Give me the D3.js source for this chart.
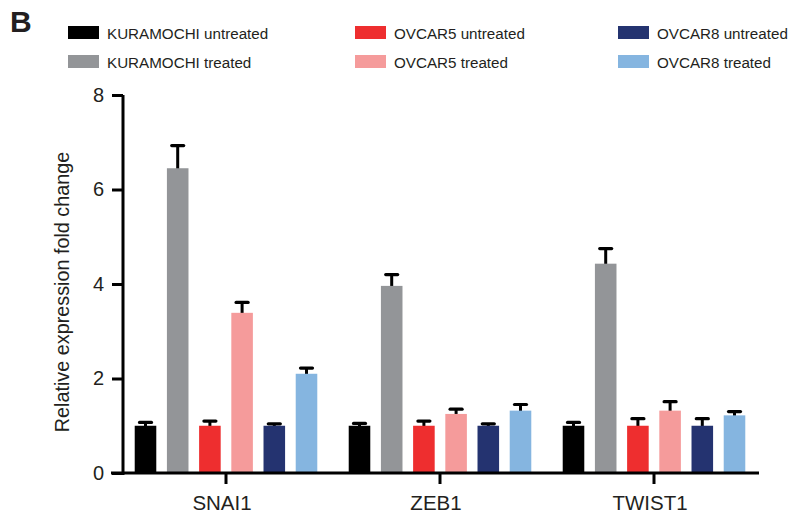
<!DOCTYPE html>
<html>
<head>
<meta charset="utf-8">
<script src="https://cdn.jsdelivr.net/npm/d3@7"></script>
<style>
  body { margin: 0; background: #fff; }
  text { font-family: "Liberation Sans", Arial, sans-serif; fill: #231f20; }
</style>
</head>
<body>
<svg id="chart"></svg>
<script>
const genes = ["SNAI1", "ZEB1", "TWIST1"]
const series = ["KURAMOCHI untreated", "KURAMOCHI treated", "OVCAR5 untreated", "OVCAR5 treated", "OVCAR8 untreated", "OVCAR8 treated"]
const colors = ["#000000", "#939598", "#ee2e2f", "#f59b9b", "#243370", "#85b5e0"]

// mean values, one row per gene, in series order
const means = [
  [1.0, 6.45, 1.0, 3.39, 1.0, 2.10],
  [1.0, 3.96, 1.0, 1.25, 1.0, 1.32],
  [1.0, 4.43, 1.0, 1.32, 1.0, 1.22]
]
// top of error bar
const errTops = [
  [1.07, 6.93, 1.10, 3.61, 1.04, 2.22],
  [1.05, 4.20, 1.10, 1.35, 1.04, 1.45],
  [1.07, 4.75, 1.15, 1.51, 1.15, 1.30]
]
const yTicks = [0, 2, 4, 6, 8]

const w = 807
const h = 520

const svg = d3.select("#chart").attr("width", w).attr("height", h)

const x0 = d3.scaleBand().domain(genes).range([119, 761])
const x1 = d3.scaleBand().domain(series).range([-96.6, 96.6]).paddingInner(0.33).paddingOuter(0.165)
const y = d3.scaleLinear().domain([0, 8]).range([473, 95])

// flatten into rows for drawing
let rows = []
genes.forEach((g, gi) => {
  series.forEach((s, si) => {
    rows.push({gene: g, s: s, color: colors[si], v: means[gi][si], e: errTops[gi][si]})
  })
})

const bx = d => x0(d.gene) + x0.bandwidth() / 2 + x1(d.s)

// error bars first so bars sit on top of the stem base
const err = svg.append("g")
err.selectAll("line.stem").data(rows).enter().append("line")
  .attr("x1", d => bx(d) + x1.bandwidth() / 2).attr("x2", d => bx(d) + x1.bandwidth() / 2)
  .attr("y1", d => y(d.v) + 2).attr("y2", d => y(d.e))
  .attr("stroke", "#000").attr("stroke-width", 3)
err.selectAll("line.cap").data(rows).enter().append("line")
  .attr("x1", d => bx(d) + x1.bandwidth() / 2 - 6).attr("x2", d => bx(d) + x1.bandwidth() / 2 + 6)
  .attr("y1", d => y(d.e)).attr("y2", d => y(d.e))
  .attr("stroke", "#000").attr("stroke-width", 3.2).attr("stroke-linecap", "round")

svg.append("g").selectAll("rect").data(rows).enter().append("rect")
  .attr("x", bx)
  .attr("width", x1.bandwidth())
  .attr("y", d => y(d.v))
  .attr("height", d => y(0) - y(d.v))
  .attr("fill", d => d.color)

// y axis
const axisY = d3.axisLeft(y).tickValues(yTicks).tickSize(11).tickPadding(8).tickSizeOuter(0)
const gy = svg.append("g").attr("transform", "translate(123,0)").call(axisY)
gy.select(".domain").remove()
gy.selectAll(".tick line").attr("stroke", "#000").attr("stroke-width", 3)
gy.selectAll(".tick text").attr("font-size", 20).attr("font-family", "Liberation Sans, Arial, sans-serif").attr("fill", "#231f20")
gy.append("line").attr("x1", 0).attr("x2", 0).attr("y1", y(8)).attr("y2", y(0) + 2).attr("stroke", "#000").attr("stroke-width", 3)

// x axis
const axisX = d3.axisBottom(x0).tickSize(11).tickPadding(11).tickSizeOuter(0)
const gx = svg.append("g").attr("transform", "translate(0," + y(0) + ")").call(axisX)
gx.select(".domain").remove()
gx.selectAll(".tick line").attr("stroke", "#000").attr("stroke-width", 3)
gx.selectAll(".tick text").attr("font-size", 20.5).attr("font-family", "Liberation Sans, Arial, sans-serif").attr("fill", "#231f20").attr("dx", -4)
gx.append("line").attr("x1", 111).attr("x2", 759).attr("y1", 0).attr("y2", 0).attr("stroke", "#000").attr("stroke-width", 3)

svg.append("text")
  .attr("transform", "translate(69," + ((y(0) + y(8)) / 2 + 8) + ") rotate(-90)")
  .attr("text-anchor", "middle")
  .attr("font-size", 19.8)
  .text("Relative expression fold change")

// panel letter
svg.append("text").attr("x", 10).attr("y", 32).attr("font-size", 30).attr("font-weight", "bold").attr("fill", "#231f20").text("B")

// legend: 3 columns, 2 rows
const legX = [68, 355, 618]
const legY = [26, 55]
const leg = svg.append("g")
series.forEach((s, i) => {
  const col = Math.floor(i / 2), row = i % 2
  leg.append("rect").attr("x", legX[col]).attr("y", legY[row]).attr("width", 31).attr("height", 13).attr("fill", colors[i])
  leg.append("text").attr("x", legX[col] + 39).attr("y", legY[row] + 12.5).attr("font-size", 15.2).text(s)
})
</script>
</body>
</html>
